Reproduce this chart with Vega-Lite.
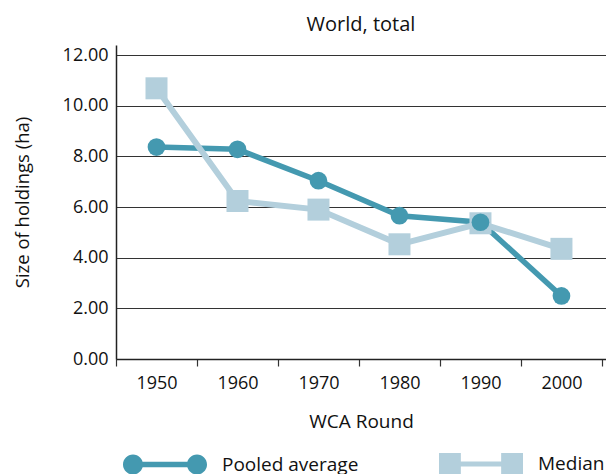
{
  "$schema": "https://vega.github.io/schema/vega-lite/v6.json",
  "autosize": {"type": "none"},
  "padding": {"left": 116, "top": 45, "right": 0, "bottom": 115},
  "width": 490,
  "height": 314,
  "title": {"text": "World, total", "fontSize": 20, "fontWeight": "normal", "font": "Open Sans", "color": "#111", "offset": 10},
  "data": {
    "values": [
      {"round": "1950", "series": "Pooled average", "value": 8.37},
      {"round": "1960", "series": "Pooled average", "value": 8.28},
      {"round": "1970", "series": "Pooled average", "value": 7.04},
      {"round": "1980", "series": "Pooled average", "value": 5.66},
      {"round": "1990", "series": "Pooled average", "value": 5.40},
      {"round": "2000", "series": "Pooled average", "value": 2.49},
      {"round": "1950", "series": "Median", "value": 10.69},
      {"round": "1960", "series": "Median", "value": 6.24},
      {"round": "1970", "series": "Median", "value": 5.90},
      {"round": "1980", "series": "Median", "value": 4.53},
      {"round": "1990", "series": "Median", "value": 5.36},
      {"round": "2000", "series": "Median", "value": 4.35}
    ]
  },
  "encoding": {
    "x": {
      "field": "round", "type": "ordinal", "sort": null,
      "scale": {"paddingInner": 0, "paddingOuter": 0.025, "align": 0},
      "axis": {
        "title": "WCA Round", "labelAngle": 0, "tickBand": "extent", "ticks": true, "tickSize": 7,
        "tickColor": "#333", "tickWidth": 1.2, "domainColor": "#222", "domainWidth": 1.5,
        "labelPadding": 8, "labelFontSize": 18, "titleFontSize": 19, "titleFontWeight": "normal",
        "titlePadding": 20, "labelColor": "#111", "titleColor": "#111", "grid": false
      }
    },
    "y": {
      "field": "value", "type": "quantitative",
      "scale": {"domain": [0, 12.4], "nice": false, "zero": true},
      "axis": {
        "title": "Size of holdings (ha)", "values": [0, 2, 4, 6, 8, 10, 12], "format": ".2f",
        "grid": true, "gridColor": "#333", "gridWidth": 1.2, "ticks": false,
        "domainColor": "#222", "domainWidth": 1.5, "labelPadding": 8,
        "labelFontSize": 18, "titleFontSize": 18.5, "titleFontWeight": "normal", "titlePadding": 30,
        "labelColor": "#111", "titleColor": "#111"
      }
    },
    "color": {
      "field": "series", "type": "nominal",
      "scale": {"domain": ["Pooled average", "Median"], "range": ["#4499b0", "#b3cfdc"]},
      "legend": {
        "orient": "none", "legendX": 7, "legendY": 377, "direction": "horizontal", "columns": 2,
        "title": null, "padding": 0, "symbolSize": 7056, "symbolStrokeWidth": 0,
        "labelOffset": 15, "columnPadding": 80, "labelFontSize": 19, "labelColor": "#111",
        "labelFont": "Open Sans",
        "encode": {
          "symbols": {
            "update": {
              "shape": {"signal": "datum.value === 'Median' ? 'M -1 -0.26 L -0.48 -0.26 L -0.48 -0.06 L 0.48 -0.06 L 0.48 -0.26 L 1 -0.26 L 1 0.26 L 0.48 0.26 L 0.48 0.06 L -0.48 0.06 L -0.48 0.26 L -1 0.26 Z' : 'M -1 0 A 0.238 0.238 0 1 1 -0.524 0 A 0.238 0.238 0 1 1 -1 0 Z M 0.524 0 A 0.238 0.238 0 1 1 1 0 A 0.238 0.238 0 1 1 0.524 0 Z M -0.54 -0.065 L 0.54 -0.065 L 0.54 0.065 L -0.54 0.065 Z'"},
              "fill": {"signal": "datum.value === 'Median' ? '#b3cfdc' : '#4499b0'"},
              "fillOpacity": {"value": 1},
              "opacity": {"value": 1},
              "strokeWidth": {"value": 0}
            }
          }
        }
      }
    }
  },
  "layer": [
    {"transform": [{"filter": "datum.series === 'Pooled average'"}], "mark": {"type": "line", "strokeWidth": 5.5}},
    {"transform": [{"filter": "datum.series === 'Median'"}], "mark": {"type": "line", "strokeWidth": 6}},
    {"transform": [{"filter": "datum.series === 'Median'"}], "mark": {"type": "point", "shape": "square", "filled": true, "opacity": 1, "size": 484}},
    {"transform": [{"filter": "datum.series === 'Pooled average'"}], "mark": {"type": "point", "shape": "circle", "filled": true, "opacity": 1, "size": 314}}
  ],
  "config": {"view": {"stroke": null}, "font": "Open Sans"}
}
